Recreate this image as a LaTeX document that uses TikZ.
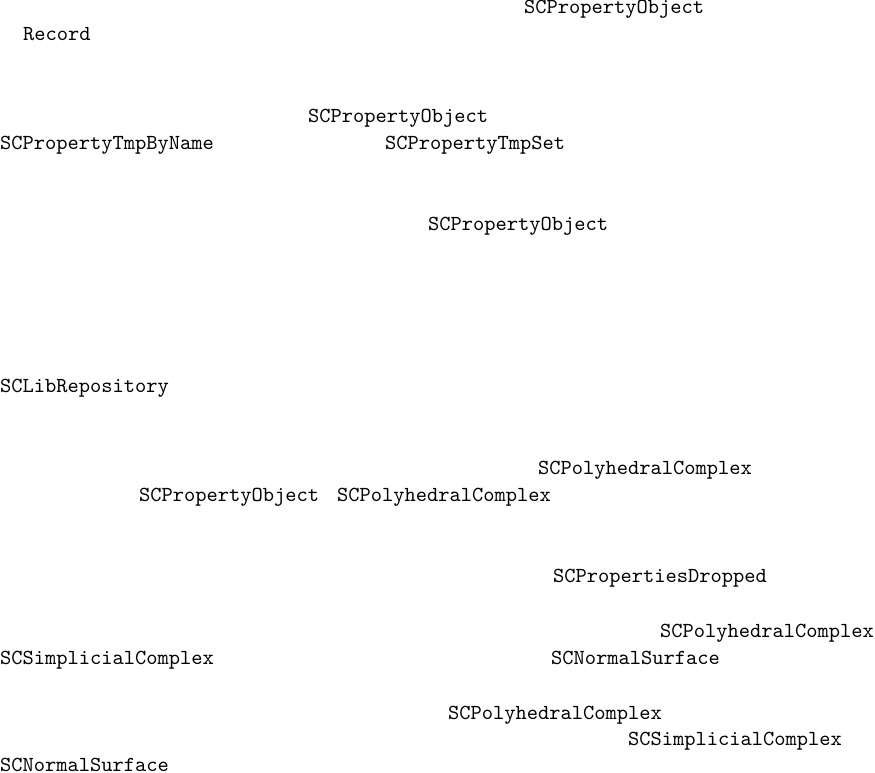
\documentclass[tikz,border=0pt]{standalone}
\begin{document}
\begin{tikzpicture}[x=0.4665pt,y=-0.4665pt,
  lbl/.style={anchor=base west,inner sep=0pt,outer sep=0pt,font=\ttfamily}]
\useasboundingbox (0,0) rectangle (875,773);
\node[lbl] (po1) at (524,14) {SCPropertyObject};
\node[lbl] (rec) at (23,41) {Record};
\node[lbl] (po2) at (308,123) {SCPropertyObject};
\node[lbl] (tbn) at (0,150) {SCPropertyTmpByName};
\node[lbl] (tset) at (385,150) {SCPropertyTmpSet};
\node[lbl] (po3) at (428,231) {SCPropertyObject};
\node[lbl] (lib) at (0,393) {SCLibRepository};
\node[lbl] (pc1) at (538,475) {SCPolyhedralComplex};
\node[lbl] (po4) at (139,502) {SCPropertyObject};
\node[lbl] (pc2) at (337,502) {SCPolyhedralComplex};
\node[lbl] (pd) at (553,583) {SCPropertiesDropped};
\node[lbl] (pc3) at (660,637) {SCPolyhedralComplex};
\node[lbl] (sc1) at (0,665) {SCSimplicialComplex};
\node[lbl] (ns1) at (551,665) {SCNormalSurface};
\node[lbl] (pc4) at (448,719) {SCPolyhedralComplex};
\node[lbl] (sc2) at (628,746) {SCSimplicialComplex};
\node[lbl] (ns2) at (0,771) {SCNormalSurface};
\end{tikzpicture}
\end{document}
